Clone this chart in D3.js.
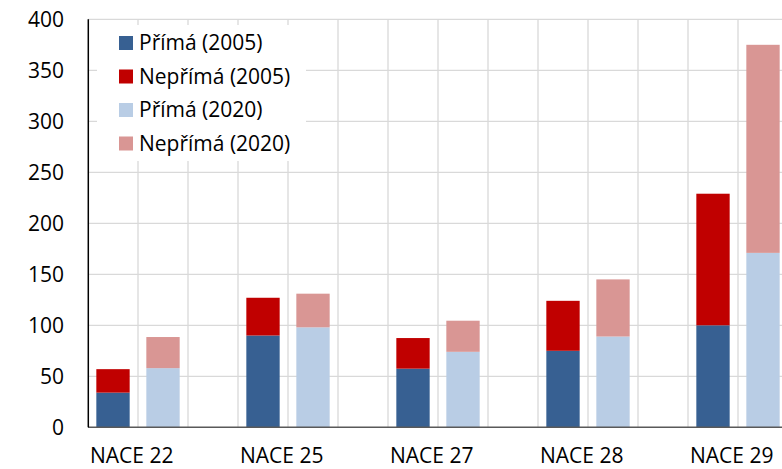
<!DOCTYPE html>
<html>
<head>
<meta charset="utf-8">
<script src="https://cdn.jsdelivr.net/npm/d3@7"></script>
<style>
  body { margin: 0; background: #fff; }
  svg { display: block; font-family: "Open Sans", sans-serif; }
</style>
</head>
<body>
<div id="chart"></div>
<script>
// data
const categories = ["NACE 22", "NACE 25", "NACE 27", "NACE 28", "NACE 29"];
const direct2005 = [34, 90, 57.5, 75, 100];
const indirect2005 = [23, 37, 30, 49, 129];
const direct2020 = [58, 98, 74, 89, 171];
const indirect2020 = [30.5, 33, 30.5, 56, 204];
const yTicks = [0, 50, 100, 150, 200, 250, 300, 350, 400];
const legendLabels = ["Přímá (2005)", "Nepřímá (2005)", "Přímá (2020)", "Nepřímá (2020)"];
const colors = ["#376092", "#C00000", "#B9CDE5", "#D99694"];

const width = 782, height = 469;
const fontSize = 21;

const svg = d3.select("#chart").append("svg")
  .attr("width", width)
  .attr("height", height);

// x: each category gets 3 slots (2005, 2020, empty gap); plot runs past the right edge
const x = d3.scaleBand().domain(categories).range([88, 838]);
const slot = d3.scaleBand().domain(["2005", "2020", "gap"]).range([0, x.bandwidth()]);
const barW = slot.bandwidth() * 2 / 3;

const y = d3.scaleLinear().domain([0, 400]).range([427.3, 19.3]);

// horizontal gridlines
svg.append("g")
  .selectAll("line")
  .data(yTicks.filter(d => d > 0))
  .join("line")
  .attr("x1", 88).attr("x2", width)
  .attr("y1", d => y(d)).attr("y2", d => y(d))
  .attr("stroke", "#D9D9D9").attr("stroke-width", 1.3);

// vertical gridlines at every slot boundary
const vLines = [];
categories.forEach(c => {
  ["2005", "2020", "gap"].forEach(s => vLines.push(x(c) + slot(s)));
});
svg.append("g")
  .selectAll("line")
  .data(vLines.filter(v => v > 88))
  .join("line")
  .attr("x1", d => d).attr("x2", d => d)
  .attr("y1", y(400)).attr("y2", y(0))
  .attr("stroke", "#D9D9D9").attr("stroke-width", 1.3);

// stacked bars
const series = [
  { year: "2005", lower: direct2005, upper: indirect2005, c0: colors[0], c1: colors[1] },
  { year: "2020", lower: direct2020, upper: indirect2020, c0: colors[2], c1: colors[3] }
];

series.forEach(s => {
  const g = svg.append("g");
  const bx = c => x(c) + slot(s.year) + (slot.bandwidth() - barW) / 2;
  g.selectAll("rect.lower")
    .data(categories)
    .join("rect")
    .attr("class", "lower")
    .attr("x", bx)
    .attr("width", barW)
    .attr("y", (c, i) => y(s.lower[i]))
    .attr("height", (c, i) => y(0) - y(s.lower[i]))
    .attr("fill", s.c0);
  g.selectAll("rect.upper")
    .data(categories)
    .join("rect")
    .attr("class", "upper")
    .attr("x", bx)
    .attr("width", barW)
    .attr("y", (c, i) => y(s.lower[i] + s.upper[i]))
    .attr("height", (c, i) => y(s.lower[i]) - y(s.lower[i] + s.upper[i]))
    .attr("fill", s.c1);
});

// axes lines
svg.append("line")
  .attr("x1", 88).attr("x2", width)
  .attr("y1", y(0)).attr("y2", y(0))
  .attr("stroke", "#595959").attr("stroke-width", 1.5);
svg.append("line")
  .attr("x1", 88.3).attr("x2", 88.3)
  .attr("y1", y(400)).attr("y2", y(0))
  .attr("stroke", "#000").attr("stroke-width", 1.5);

// y tick labels
svg.append("g")
  .selectAll("text")
  .data(yTicks)
  .join("text")
  .attr("x", 64)
  .attr("y", d => y(d))
  .attr("dy", "0.35em")
  .attr("text-anchor", "end")
  .attr("font-size", fontSize)
  .attr("fill", "#000")
  .text(d => d);

// category labels (kept just inside the bottom edge)
svg.append("g")
  .selectAll("text")
  .data(categories)
  .join("text")
  .attr("x", d => x(d) + 2)
  .attr("y", 463)
  .attr("font-size", fontSize)
  .attr("fill", "#000")
  .text(d => d);

// legend
const legend = svg.append("g");
legend.append("rect")
  .attr("x", 97).attr("y", 25)
  .attr("width", 209).attr("height", 136)
  .attr("fill", "#fff");
const rowY = d3.scalePoint().domain(legendLabels).range([43, 143.5]);
legendLabels.forEach((lab, i) => {
  legend.append("rect")
    .attr("x", 119).attr("y", rowY(lab) - 7)
    .attr("width", 14).attr("height", 14)
    .attr("fill", colors[i]);
  legend.append("text")
    .attr("x", 139).attr("y", rowY(lab))
    .attr("dy", "0.35em")
    .attr("font-size", fontSize)
    .attr("fill", "#000")
    .text(lab);
});
</script>
</body>
</html>
